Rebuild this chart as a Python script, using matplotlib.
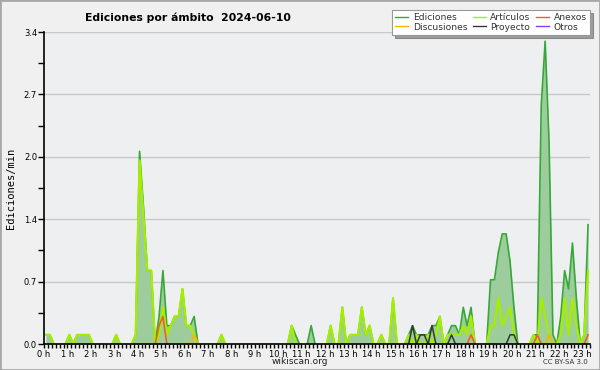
import numpy as np
import matplotlib.pyplot as plt
from matplotlib.lines import Line2D
from matplotlib.patches import Rectangle

# edits per minute, 10-minute bins, one row per hour (0 h .. 23 h20)
ediciones = [
    0.1, 0.1, 0, 0, 0, 0,          # 0 h
    0.1, 0, 0.1, 0.1, 0.1, 0.1,    # 1 h
    0, 0, 0, 0, 0, 0,              # 2 h
    0.1, 0, 0, 0, 0, 0.1,          # 3 h
    2.1, 1.5, 0.8, 0.8, 0, 0.3,    # 4 h
    0.8, 0.2, 0.2, 0.3, 0.3, 0.6,  # 5 h
    0.2, 0.2, 0.3, 0, 0, 0,        # 6 h
    0, 0, 0, 0.1, 0, 0,            # 7 h
    0, 0, 0, 0, 0, 0,              # 8 h
    0, 0, 0, 0, 0, 0,              # 9 h
    0, 0, 0, 0.2, 0.1, 0,          # 10 h
    0, 0, 0.2, 0, 0, 0,            # 11 h
    0, 0.2, 0, 0, 0.4, 0,          # 12 h
    0.1, 0.1, 0.1, 0.4, 0.1, 0.2,  # 13 h
    0, 0, 0.1, 0, 0, 0.5,          # 14 h
    0, 0, 0, 0.1, 0.2, 0.1,        # 15 h
    0.1, 0.1, 0.1, 0.2, 0.2, 0.3,  # 16 h
    0, 0.1, 0.2, 0.2, 0.1, 0.4,    # 17 h
    0.2, 0.4, 0, 0, 0, 0,          # 18 h
    0.7, 0.7, 1.0, 1.2, 1.2, 0.9,  # 19 h
    0.4, 0, 0, 0, 0, 0.1,          # 20 h
    0.1, 2.6, 3.3, 2.2, 0.1, 0,    # 21 h
    0.3, 0.8, 0.6, 1.1, 0.5, 0,    # 22 h
    0.1, 1.3,                      # 23 h
]
articulos = [
    0.1, 0.1, 0, 0, 0, 0,
    0.1, 0, 0.1, 0.1, 0.1, 0.1,
    0, 0, 0, 0, 0, 0,
    0.1, 0, 0, 0, 0, 0.1,
    2.0, 1.4, 0.8, 0.8, 0, 0.1,
    0.4, 0.1, 0.2, 0.3, 0.3, 0.6,
    0.2, 0.2, 0.1, 0, 0, 0,
    0, 0, 0, 0.1, 0, 0,
    0, 0, 0, 0, 0, 0,
    0, 0, 0, 0, 0, 0,
    0, 0, 0, 0.2, 0, 0,
    0, 0, 0, 0, 0, 0,
    0, 0.2, 0, 0, 0.4, 0,
    0.1, 0.1, 0.1, 0.4, 0.1, 0.2,
    0, 0, 0.1, 0, 0, 0.5,
    0, 0, 0, 0.1, 0, 0.1,
    0, 0, 0.1, 0, 0.1, 0.3,
    0, 0.1, 0.1, 0.1, 0.1, 0.2,
    0.1, 0.3, 0, 0, 0, 0,
    0.2, 0.2, 0.5, 0.2, 0.3, 0.4,
    0.1, 0, 0, 0, 0, 0.1,
    0, 0.5, 0.3, 0.1, 0, 0,
    0.1, 0.5, 0.1, 0.5, 0.2, 0,
    0.1, 0.8,
]
# sparse series: bin index -> value
anexos_bins = [29, 30, 109, 126, 139]
anexos_vals = [0.2, 0.3, 0.1, 0.1, 0.1]
discusiones_bins = [38, 129]
discusiones_vals = [0.1, 0.1]
proyecto_bins = [94, 96, 97, 99, 104, 119, 120]
proyecto_vals = [0.2, 0.1, 0.1, 0.2, 0.1, 0.1, 0.1]
otros_bins = []
otros_vals = []

n = len(ediciones)
x = (np.arange(n) + 0.5) / 6.0


def sparse(bins, vals):
    a = np.zeros(n)
    a[bins] = vals
    return a


def visible(v):
    # hide flat stretches sitting on the baseline
    v = np.asarray(v, dtype=float)
    nz = v > 0
    keep = nz.copy()
    keep[1:] |= nz[:-1]
    keep[:-1] |= nz[1:]
    return np.where(keep, v, np.nan)


fig = plt.figure(figsize=(6, 3.7), dpi=100, facecolor='#f0f0f0')
ax = fig.add_axes([44 / 600, 26 / 370, 546 / 600, 312 / 370])
ax.set_facecolor('#eeeff1')

ax.fill_between(x, ediciones, 0, color='#9dcc9d', lw=0, zorder=1)
series = [
    ('Ediciones', ediciones, '#37a837', 1.2),
    ('Artículos', articulos, '#a6ee00', 1.6),
    ('Discusiones', sparse(discusiones_bins, discusiones_vals), '#f5b800', 1.2),
    ('Anexos', sparse(anexos_bins, anexos_vals), '#f06020', 1.2),
    ('Proyecto', sparse(proyecto_bins, proyecto_vals), '#333833', 1.1),
    ('Otros', sparse(otros_bins, otros_vals), '#8a3cf0', 1.1),
]
for name, vals, col, lw in series:
    ax.plot(x, visible(vals), color=col, lw=lw, zorder=2)

ax.set_xlim(0, n / 6.0)
ax.set_ylim(0, 3.4)
yt = np.linspace(0, 3.4, 6)
ax.set_yticks(yt)
ax.set_yticklabels(['%.1f' % v for v in yt], fontsize=6)
ax.set_yticks((yt[:-1] + yt[1:]) / 2, minor=True)
ax.set_xticks(np.arange(24))
ax.set_xticklabels(['%d h' % h for h in range(24)], fontsize=6)
ax.set_xticks(np.arange(0, n + 1) / 6.0, minor=True)
ax.tick_params(axis='both', which='both', direction='out', width=1, color='black')
ax.tick_params(axis='x', which='both', length=3, pad=1)
ax.tick_params(axis='y', which='both', length=4, pad=1)
ax.grid(axis='y', color='#c8c8c8', lw=1)
ax.set_axisbelow(True)
for s in ['top', 'right']:
    ax.spines[s].set_visible(False)
for s in ['left', 'bottom']:
    ax.spines[s].set_linewidth(1.2)

fig.text(0.018, 0.49, 'Ediciones/min', rotation=90, ha='center', va='center',
         fontsize=7.5, family='DejaVu Sans Mono')
fig.text(0.3125, 0.953, 'Ediciones por ámbito  2024-06-10', ha='center', va='center',
         fontsize=7.8, fontweight='bold')
fig.text(0.5, 0.022, 'wikiscan.org', ha='center', va='center', fontsize=6.5, color='#222222')
fig.text(0.98, 0.022, 'CC BY-SA 3.0', ha='right', va='center', fontsize=5, color='#333333')

handles = [Line2D([], [], color=c, lw=1) for _, _, c, _ in series]
labels = [s[0] for s in series]
# column-wise order: Ediciones/Discusiones, Artículos/Proyecto, Anexos/Otros
order = [0, 2, 1, 4, 3, 5]
leg = fig.legend([handles[i] for i in order], [labels[i] for i in order],
                 loc='upper right', bbox_to_anchor=(0.983, 0.973), ncol=3,
                 fontsize=6.6, frameon=True, fancybox=False, shadow=True,
                 handlelength=1.4, handletextpad=0.5, columnspacing=0.6,
                 labelspacing=0.05, borderpad=0.35, borderaxespad=0)
leg.get_frame().set_edgecolor('#999999')
leg.get_frame().set_linewidth(0.8)
for t in leg.get_texts():
    t.set_color('#333333')

fig.patches.append(Rectangle((0, 0), 1, 1, transform=fig.transFigure, fill=False,
                             edgecolor='#a8a8a8', lw=2))

fig.savefig('out.png', dpi=100, facecolor=fig.get_facecolor())
